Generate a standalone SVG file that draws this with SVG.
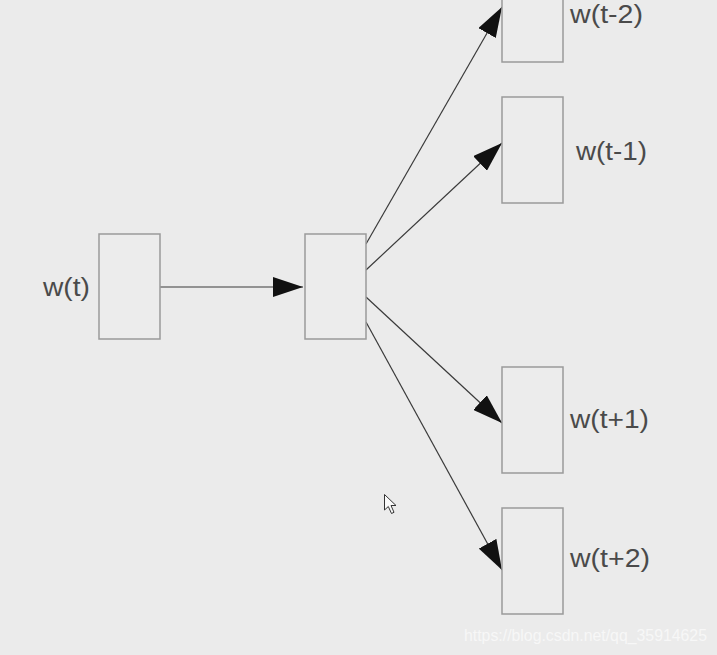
<svg xmlns="http://www.w3.org/2000/svg" width="717" height="655" viewBox="0 0 717 655">
<style>
.box{fill:#ececec;stroke:#9a9a9a;stroke-width:1.5}
.lbl{font-family:"Liberation Sans",Arial,sans-serif;font-size:25px;fill:#4a4a4a}
.edge{stroke:#3a3a3a;stroke-width:1.2;fill:none;marker-end:url(#ah)}
.wm{font-family:"Liberation Sans",Arial,sans-serif;font-size:17px;fill:#f7f7f7}
</style>
<defs>
<marker id="ah" markerUnits="userSpaceOnUse" markerWidth="30" markerHeight="20" refX="30" refY="10" orient="auto">
<path d="M0,0 L30,10 L0,20 Z" fill="#111"/>
</marker>
</defs>
<rect width="717" height="655" fill="#ebebeb"/>
<g id="connectors">
<line class="edge" x1="160" y1="287" x2="303" y2="287"/>
<line class="edge" x1="366" y1="244" x2="502" y2="7"/>
<line class="edge" x1="366" y1="270" x2="502" y2="143"/>
<line class="edge" x1="366" y1="297" x2="502" y2="423"/>
<line class="edge" x1="366" y1="322" x2="502" y2="570"/>
</g>
<g id="node-input">
<rect class="box" x="99" y="234" width="61" height="105"/>
<text class="lbl" x="43" y="296" textLength="47" lengthAdjust="spacingAndGlyphs">w(t)</text>
</g>
<g id="node-hidden">
<rect class="box" x="305" y="234" width="61" height="105"/>
</g>
<g id="node-t-2">
<rect class="box" x="502" y="-43" width="61" height="105"/>
<text class="lbl" x="570" y="23" textLength="73" lengthAdjust="spacingAndGlyphs">w(t-2)</text>
</g>
<g id="node-t-1">
<rect class="box" x="502" y="97" width="61" height="106"/>
<text class="lbl" x="576" y="160" textLength="71" lengthAdjust="spacingAndGlyphs">w(t-1)</text>
</g>
<g id="node-t+1">
<rect class="box" x="502" y="367" width="61" height="106"/>
<text class="lbl" x="570" y="428" textLength="79" lengthAdjust="spacingAndGlyphs">w(t+1)</text>
</g>
<g id="node-t+2">
<rect class="box" x="502" y="508" width="61" height="106"/>
<text class="lbl" x="570" y="567" textLength="80" lengthAdjust="spacingAndGlyphs">w(t+2)</text>
</g>
<path d="M384.5,494.5 L384.5,510 L388.3,506.5 L391.5,513.5 L394,512.3 L391,505.5 L396,505.5 Z" fill="#fafafa" stroke="#333" stroke-width="1" stroke-linejoin="round"/>
<text class="wm" x="464" y="641" textLength="243" lengthAdjust="spacingAndGlyphs">https://blog.csdn.net/qq_35914625</text>
</svg>
